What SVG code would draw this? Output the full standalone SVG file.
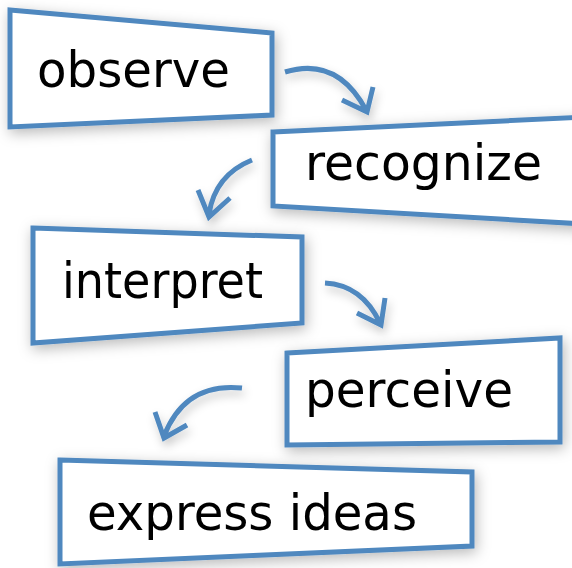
<svg xmlns="http://www.w3.org/2000/svg" width="572" height="568" viewBox="0 0 572 568">
<defs>
<filter id="sh" x="-20%" y="-30%" width="140%" height="160%">
<feDropShadow dx="2" dy="4" stdDeviation="7" flood-color="#000" flood-opacity="0.28"/>
</filter>
<filter id="sha" x="-40%" y="-40%" width="180%" height="180%">
<feDropShadow dx="2" dy="5" stdDeviation="5" flood-color="#000" flood-opacity="0.22"/>
</filter>
</defs>
<style>
.box{fill:#fff;stroke:#4f88bf;stroke-width:5;stroke-linejoin:miter}
.lbl{font-family:"DejaVu Sans","Liberation Sans",sans-serif;font-size:50px;fill:#000}
.arr{fill:none;stroke:#4f88bf;stroke-width:5;stroke-linecap:butt;stroke-linejoin:miter}
</style>
<rect width="572" height="568" fill="#fff"/>
<g id="connectors" filter="url(#sha)">
<path class="arr" d="M285,72 Q337,56 366,110 M342,100 L367,112 L373,87"/>
<path class="arr" d="M252,160 Q215,175 209,214 M198,190 L209,217 L230,198"/>
<path class="arr" d="M325,283 Q362,285 380,323 M357,313 L381,325 L385,298"/>
<path class="arr" d="M242,388 Q185,382 164,436 M155,412 L164,438 L187,425"/>
</g>
<g id="observe" filter="url(#sh)">
<polygon class="box" points="10,10 272,33 272,115 10,127"/>
<text class="lbl" x="37" y="87" textLength="193" lengthAdjust="spacingAndGlyphs">observe</text>
</g>
<g id="recognize" filter="url(#sh)">
<polygon class="box" points="273,132 585,117 585,224 273,206"/>
<text class="lbl" x="305" y="180" textLength="237" lengthAdjust="spacingAndGlyphs">recognize</text>
</g>
<g id="interpret" filter="url(#sh)">
<polygon class="box" points="33,228 302,237 302,323 33,343"/>
<text class="lbl" x="62" y="298" textLength="201" lengthAdjust="spacingAndGlyphs">interpret</text>
</g>
<g id="perceive" filter="url(#sh)">
<polygon class="box" points="287,353 560,338 560,442 287,445"/>
<text class="lbl" x="305" y="407" textLength="208" lengthAdjust="spacingAndGlyphs">perceive</text>
</g>
<g id="express" filter="url(#sh)">
<polygon class="box" points="60,460 472,472 472,546 60,564"/>
<text class="lbl" x="87" y="530" textLength="330" lengthAdjust="spacingAndGlyphs">express ideas</text>
</g>
</svg>
